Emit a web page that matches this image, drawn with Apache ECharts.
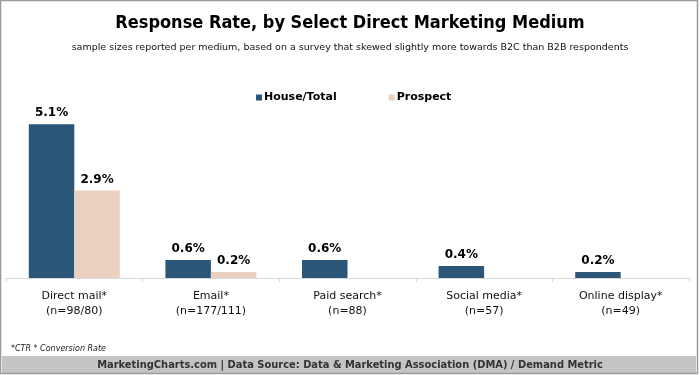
<!DOCTYPE html>
<html>
<head>
<meta charset="utf-8">
<style>
  html, body { margin: 0; padding: 0; background: #fff; }
  #chart { width: 700px; height: 375px; }
</style>
<script src="https://cdn.jsdelivr.net/npm/echarts@6/dist/echarts.min.js"></script>
</head>
<body>
<div id="chart"></div>
<script>
  var categories = ['Direct mail*', 'Email*', 'Paid search*', 'Social media*', 'Online display*'];
  var sampleSizes = ['(n=98/80)', '(n=177/111)', '(n=88)', '(n=57)', '(n=49)'];
  var houseValues = [5.1, 0.6, 0.6, 0.4, 0.2];
  var prospectValues = [2.9, 0.2, null, null, null];
  var seriesNames = ['House/Total', 'Prospect'];

  var labels = categories.map(function (c, i) { return c + '\n' + sampleSizes[i] })

  var chart = echarts.init(document.getElementById('chart'))
  chart.setOption({
    animation: false,
    backgroundColor: '#fff',
    title: [
      {
        text: 'Response Rate, by Select Direct Marketing Medium',
        left: 'center',
        top: 9,
        textStyle: {
          fontFamily: 'DejaVu Sans Condensed',
          fontWeight: 'bold',
          fontSize: 18,
          color: '#000'
        }
      },
      {
        text: 'sample sizes reported per medium, based on a survey that skewed slightly more towards B2C than B2B respondents',
        left: 'center',
        top: 38,
        textStyle: {
          fontFamily: 'DejaVu Sans',
          fontWeight: 'normal',
          fontSize: 9.5,
          color: '#111'
        }
      },
      {
        text: '*CTR * Conversion Rate',
        left: 6,
        top: 340,
        textStyle: {
          fontFamily: 'DejaVu Sans',
          fontStyle: 'italic',
          fontWeight: 'normal',
          fontSize: 8,
          color: '#222'
        }
      },
      {
        text: 'MarketingCharts.com | Data Source: Data & Marketing Association (DMA) / Demand Metric',
        left: 'center',
        top: 355,
        textStyle: {
          fontFamily: 'DejaVu Sans Condensed',
          fontWeight: 'bold',
          fontSize: 11,
          color: '#333'
        }
      }
    ],
    graphic: [
      {
        type: 'rect',
        z: -10,
        shape: { x: 2, y: 356, width: 694, height: 17 },
        style: { fill: '#c4c4c4' }
      },
      {
        type: 'rect',
        z: -5,
        shape: { x: 0.5, y: 0.5, width: 697, height: 373 },
        style: { fill: 'none', stroke: '#9a9a9a', lineWidth: 1.5 }
      }
    ],
    legend: {
      data: seriesNames,
      top: 92,
      left: 256,
      padding: 0,
      itemWidth: 6,
      itemHeight: 6,
      itemGap: 52,
      icon: 'rect',
      textStyle: {
        fontFamily: 'DejaVu Sans',
        fontWeight: 'bold',
        fontSize: 11,
        color: '#000',
        padding: [0, 0, 0, -3]
      }
    },
    grid: {
      left: 6,
      right: 11,
      top: 97,
      bottom: 97
    },
    xAxis: {
      type: 'category',
      data: labels,
      axisLine: { lineStyle: { color: '#d8d8d8', width: 1 } },
      axisTick: { show: true, length: 4, lineStyle: { color: '#d8d8d8' } },
      axisLabel: {
        margin: 11,
        fontFamily: 'DejaVu Sans',
        fontSize: 11,
        lineHeight: 15,
        color: '#111',
        interval: 0
      }
    },
    yAxis: {
      type: 'value',
      min: 0,
      max: 6,
      show: false,
      splitLine: { show: false }
    },
    series: [
      {
        name: seriesNames[0],
        type: 'bar',
        data: houseValues,
        barWidth: '33.3%',
        barGap: '0%',
        itemStyle: { color: '#2b5677' },
        label: {
          show: true,
          position: 'top',
          distance: 5,
          formatter: function (p) { return p.value.toFixed(1) + '%' },
          fontFamily: 'DejaVu Sans',
          fontWeight: 'bold',
          fontSize: 12,
          color: '#000'
        }
      },
      {
        name: seriesNames[1],
        type: 'bar',
        data: prospectValues,
        barWidth: '33.3%',
        barGap: '0%',
        itemStyle: { color: '#ebd1bf' },
        label: {
          show: true,
          position: 'top',
          distance: 5,
          formatter: function (p) { return p.value == null ? '' : p.value.toFixed(1) + '%' },
          fontFamily: 'DejaVu Sans',
          fontWeight: 'bold',
          fontSize: 12,
          color: '#000'
        }
      }
    ]
  })
</script>
</body>
</html>
